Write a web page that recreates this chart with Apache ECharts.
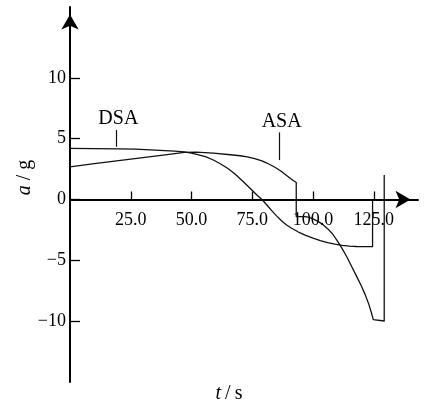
<!DOCTYPE html>
<html>
<head>
<meta charset="utf-8">
<script src="https://cdn.jsdelivr.net/npm/echarts@6/dist/echarts.min.js"></script>
<style>
html,body{margin:0;padding:0;background:#fff;}
#main{width:425px;height:409px;}
</style>
</head>
<body>
<div id="main"></div>
<script>
// ---- data ----
var dsaT = [0, 10, 20, 27, 35, 43, 47, 50, 53, 56, 59, 62, 65, 68, 71, 74, 77, 79, 81, 83, 85, 87, 89, 91, 94, 97, 100, 103, 106, 109, 112, 115, 118, 124.5, 124.5];
var dsaV = [4.2, 4.19, 4.17, 4.14, 4.06, 3.98, 3.92, 3.82, 3.68, 3.5, 3.25, 2.92, 2.55, 2.08, 1.52, 0.95, 0.35, 0, -0.45, -0.92, -1.35, -1.75, -2.08, -2.35, -2.68, -2.95, -3.18, -3.38, -3.55, -3.68, -3.78, -3.84, -3.87, -3.88, 0];
var asaT = [0, 10, 20, 30, 40, 47, 52, 59, 66, 70, 73, 76, 79, 81, 83, 85, 87, 89, 91, 93.1, 93.1, 96.7, 98.5, 100, 102, 104, 106, 108, 110, 112, 114, 116, 118, 120, 121.5, 123, 124, 124.8, 125.3, 129.3, 129.3];
var asaV = [2.69, 2.95, 3.2, 3.45, 3.7, 3.88, 3.9, 3.81, 3.68, 3.6, 3.5, 3.36, 3.17, 3.0, 2.8, 2.57, 2.3, 2.0, 1.68, 1.4, -1.41, -1.41, -1.48, -1.6, -1.8, -2.05, -2.4, -2.82, -3.4, -4.05, -4.75, -5.55, -6.35, -7.16, -7.85, -8.65, -9.3, -9.89, -10, -10, 2.01];
var xTicks = [25, 50, 75, 100, 125];
var yTicks = [-10, -5, 0, 5, 10];
var seriesNames = ['DSA', 'ASA'];
// annotation anchors
var labelT = [19.9, 87.1];
var labelV = [6.61, 6.39];
var leaderT = [19.2, 85.9];
var leaderTop = [5.71, 5.52];
var leaderBottom = [4.33, 3.24];

function pairs(t, v) { return t.map(function (x, i) { return [x, v[i]]; }); }

var chart = echarts.init(document.getElementById('main'), null, {renderer: 'canvas'});
var fontFam = '"Liberation Serif", "Times New Roman", serif';
var yMin = -15.02, yMax = 15.84;
var gridTop = 7, gridBottom = 27, H = 409;
// pixel offset that lifts the x axis (placed at bottom) onto the y = 0 line
var plotH = H - gridTop - gridBottom;
var xAxisOffset = -(plotH * (0 - yMin) / (yMax - yMin));

function mkSeries(idx, t, v) {
  return {
    name: seriesNames[idx],
    type: 'line',
    data: pairs(t, v),
    showSymbol: false,
    symbol: 'none',
    smooth: false,
    lineStyle: {color: '#111', width: 1.3, join: 'round'},
    markLine: {
      silent: true,
      symbol: ['none', 'none'],
      label: {show: false},
      lineStyle: {color: '#111', width: 1.2, type: 'solid'},
      data: [[{coord: [leaderT[idx], leaderTop[idx]]}, {coord: [leaderT[idx], leaderBottom[idx]]}]]
    },
    markPoint: {
      silent: true,
      symbol: 'circle',
      symbolSize: 0,
      label: {show: true, position: 'inside', color: '#000', fontFamily: fontFam, fontSize: 20,
        formatter: seriesNames[idx]},
      data: [{coord: [labelT[idx], labelV[idx]]}]
    }
  };
}

var option = {
  animation: false,
  backgroundColor: '#fff',
  grid: {left: 70, right: 7, top: gridTop, bottom: gridBottom, containLabel: false},
  xAxis: {
    type: 'value', min: 0, max: 143.2, position: 'bottom', offset: xAxisOffset,
    axisLine: {onZero: false, lineStyle: {color: '#000', width: 2},
      symbol: ['none', 'arrow'], symbolSize: [13, 15], symbolOffset: [0, -7.5]},
    axisTick: {show: true, inside: true, length: 8, lineStyle: {color: '#000', width: 1.3}, customValues: xTicks},
    axisLabel: {customValues: xTicks, color: '#000', fontFamily: fontFam, fontSize: 18, margin: 12,
      formatter: function (v) { return v.toFixed(1); }},
    splitLine: {show: false}
  },
  yAxis: {
    type: 'value', min: yMin, max: yMax,
    axisLine: {onZero: false, lineStyle: {color: '#000', width: 2},
      symbol: ['none', 'arrow'], symbolSize: [13, 15], symbolOffset: [0, -7.5]},
    axisTick: {show: true, inside: true, length: 10, lineStyle: {color: '#000', width: 1.3}, customValues: yTicks},
    axisLabel: {customValues: yTicks, color: '#000', fontFamily: fontFam, fontSize: 18, margin: 4,
      formatter: function (v) { return v < 0 ? '\u2212' + (-v) : String(v); }},
    splitLine: {show: false}
  },
  graphic: [
    {type: 'text', x: 25, y: 177.5, rotation: Math.PI / 2,
      style: {text: '{i|a} / g', align: 'center', verticalAlign: 'middle',
        fontFamily: fontFam, fontSize: 20, fill: '#000',
        rich: {i: {fontStyle: 'italic', fontFamily: fontFam, fontSize: 20, fill: '#000'}}}},
    {type: 'text', x: 229, y: 394,
      style: {text: '{i|t}\u2009/\u2009s', align: 'center', verticalAlign: 'middle',
        fontFamily: fontFam, fontSize: 20, fill: '#000',
        rich: {i: {fontStyle: 'italic', fontFamily: fontFam, fontSize: 20, fill: '#000'}}}}
  ],
  series: [mkSeries(0, dsaT, dsaV), mkSeries(1, asaT, asaV)]
};
chart.setOption(option);
</script>
</body>
</html>
